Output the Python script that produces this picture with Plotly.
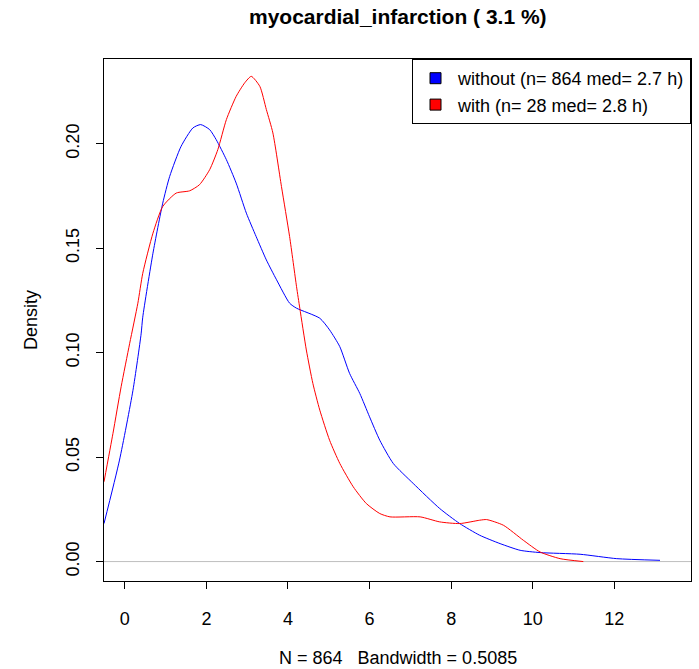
import plotly.graph_objects as go

# Density curve of the group "without" (blue)
without_x = [-0.51, -0.13, 0.20, 0.40, 0.44, 0.69, 0.93, 1.10, 1.38, 1.67, 1.86, 2.08, 2.24,
             2.49, 2.73, 2.98, 3.22, 3.47, 3.72, 4.04, 4.21, 4.78, 5.02, 5.27, 5.51, 5.76,
             6.00, 6.25, 6.58, 7.07, 7.72, 8.21, 8.70, 9.20, 9.69, 10.18, 11.16, 12.06, 13.12]
without_y = [0.0182, 0.0486, 0.082, 0.109, 0.117, 0.1476, 0.1716, 0.1844, 0.1988, 0.2076,
             0.2092, 0.2068, 0.202, 0.1924, 0.1812, 0.1668, 0.1556, 0.1444, 0.1349, 0.1237,
             0.1213, 0.1165, 0.1109, 0.1029, 0.0901, 0.0805, 0.0693, 0.0581, 0.047, 0.0374,
             0.0254, 0.0182, 0.0126, 0.0086, 0.0054, 0.0043, 0.0035, 0.0014, 0.0006]

# Density curve of the group "with" (red)
with_x = [-0.51, -0.29, -0.09, 0.12, 0.32, 0.44, 0.69, 0.93, 1.26, 1.59, 1.83, 2.08, 2.28,
          2.49, 2.73, 2.94, 3.10, 3.31, 3.47, 3.63, 3.84, 4.04, 4.21, 4.29, 4.45, 4.61,
          4.78, 5.02, 5.27, 5.60, 5.92, 6.25, 6.50, 7.24, 7.72, 8.21, 8.70, 8.87, 9.28,
          9.77, 10.18, 10.67, 11.24]
with_y = [0.0382, 0.0614, 0.0837, 0.1045, 0.1237, 0.138, 0.1572, 0.170, 0.1764, 0.1775,
          0.1804, 0.1876, 0.1972, 0.2116, 0.2227, 0.2292, 0.2323, 0.2275, 0.2164, 0.2052,
          0.1796, 0.1556, 0.1316, 0.1213, 0.1013, 0.0853, 0.0725, 0.0581, 0.047, 0.0358,
          0.0278, 0.023, 0.0214, 0.0214, 0.019, 0.0182, 0.0198, 0.0201, 0.0174, 0.0102,
          0.0046, 0.0014, 0.0]

legend_labels = ["without (n= 864 med= 2.7 h)", "with (n= 28 med= 2.8 h)"]
title_text = "myocardial_infarction ( 3.1 %)"
x_title = "N = 864   Bandwidth = 0.5085"
y_title = "Density"
x_ticks = [0, 2, 4, 6, 8, 10, 12]
y_ticks = [0.00, 0.05, 0.10, 0.15, 0.20]

FONT = "Liberation Sans, Arial, sans-serif"

fig = go.Figure()
fig.add_trace(go.Scatter(x=without_x, y=without_y, mode="lines", line=dict(color="#0000ff", width=1, shape="spline", smoothing=0.6),
                         showlegend=False, hoverinfo="skip"))
fig.add_trace(go.Scatter(x=with_x, y=with_y, mode="lines", line=dict(color="#ff0000", width=1, shape="spline", smoothing=0.6),
                         showlegend=False, hoverinfo="skip"))
# legend entries as filled squares
for lab, col in zip(legend_labels, ["#0000ff", "#ff0000"]):
    fig.add_trace(go.Scatter(x=[None], y=[None], mode="markers", name=lab,
                             marker=dict(symbol="square", size=11, color=col, line=dict(color="black", width=1))))

fig.add_shape(type="line", xref="paper", x0=0, x1=1, yref="y", y0=0, y1=0,
              line=dict(color="#bebebe", width=1), layer="below")

fig.update_layout(
    width=699, height=669,
    margin=dict(l=104, r=8, t=59, b=88),
    paper_bgcolor="white", plot_bgcolor="white",
    font=dict(family=FONT, size=18, color="black"),
    showlegend=True,
    legend=dict(x=1, y=1, xanchor="right", yanchor="top", bordercolor="black", borderwidth=1,
                bgcolor="white", font=dict(size=18, family=FONT, color="black"), itemwidth=35,
                tracegroupgap=0),
    annotations=[
        dict(text="<b>" + title_text + "</b>", xref="paper", yref="paper", x=0.5, y=1,
             yshift=43, xanchor="center", yanchor="middle", showarrow=False,
             font=dict(size=21, family=FONT, color="black")),
        dict(text=x_title, xref="paper", yref="paper", x=0.5, y=0, yshift=-77,
             xanchor="center", yanchor="middle", showarrow=False, font=dict(size=18, family=FONT)),
        dict(text=y_title, xref="paper", yref="paper", x=0, y=0.5, xshift=-73, textangle=-90,
             xanchor="center", yanchor="middle", showarrow=False, font=dict(size=18, family=FONT)),
    ],
    xaxis=dict(range=[-0.51, 13.88], tickvals=x_ticks, ticktext=[str(t) for t in x_ticks],
               showgrid=False, zeroline=False, showline=True, linecolor="black", linewidth=1,
               mirror=True, ticks="outside", ticklen=7, tickcolor="black", tickwidth=1,
               ticklabelstandoff=14,
               tickfont=dict(size=18, family=FONT, color="black")),
    yaxis=dict(range=[-0.0093, 0.2406], tickvals=y_ticks, ticktext=["%.2f" % t for t in y_ticks],
               tickangle=-90, showgrid=False, zeroline=False, showline=True, linecolor="black",
               linewidth=1, mirror=True, ticks="outside", ticklen=7, tickcolor="black", tickwidth=1,
               ticklabelstandoff=10,
               tickfont=dict(size=18, family=FONT, color="black")),
)

fig.write_html("out.html", config={"displayModeBar": False},
               post_script="document.body.style.margin='0px';")
